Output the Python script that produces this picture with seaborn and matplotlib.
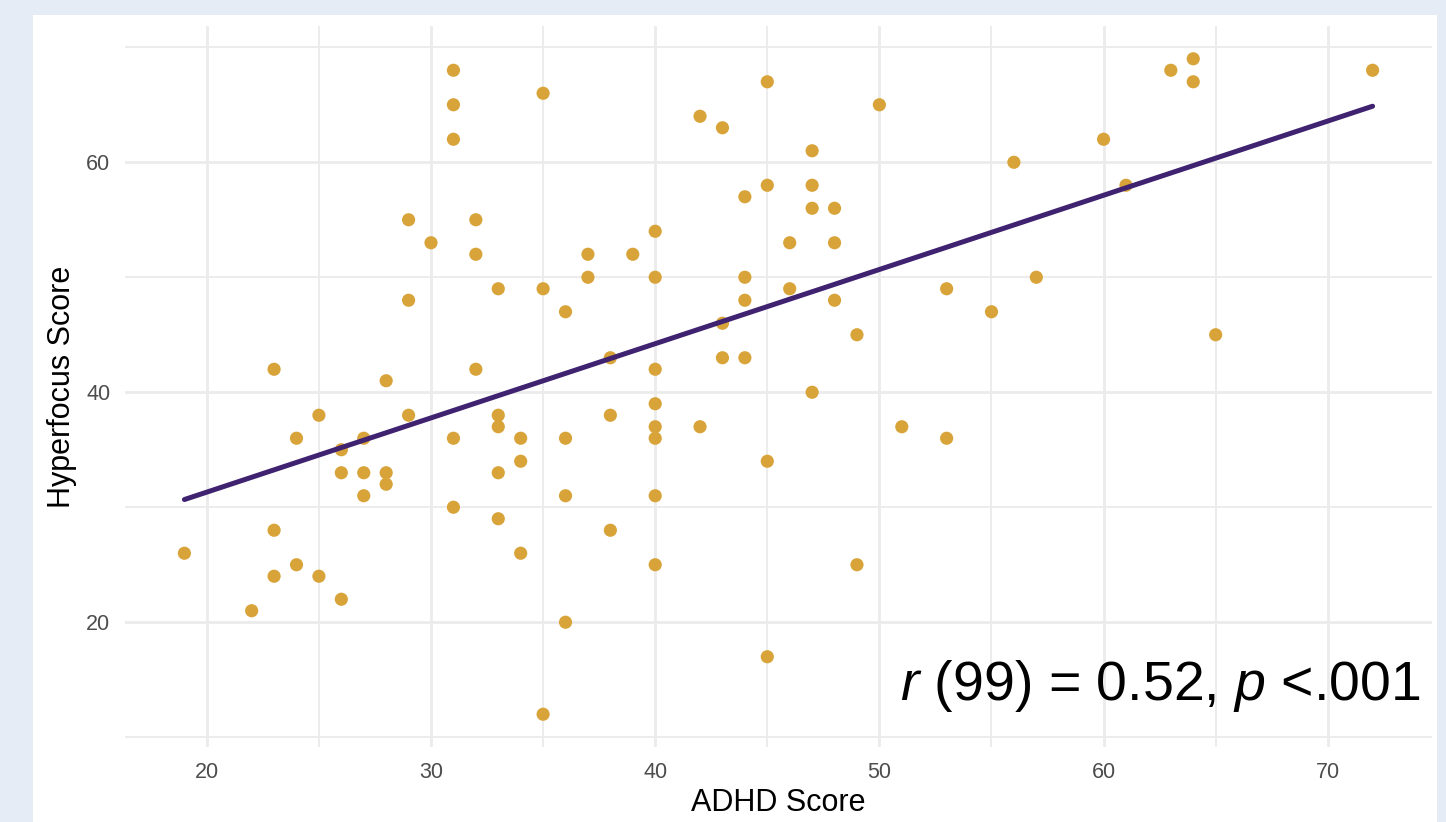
import numpy as np
import pandas as pd
import matplotlib
matplotlib.use("Agg")
import matplotlib.pyplot as plt
from matplotlib.patches import Rectangle
from matplotlib.ticker import MultipleLocator, FixedLocator
import seaborn as sns

# ADHD score (x) and hyperfocus score (y)
adhd = [19, 22, 23, 23, 23, 24, 24, 25, 25, 26, 26, 26, 27, 27, 27,
        28, 28, 28, 29, 29, 29, 30, 31, 31, 31, 31, 31, 32, 32, 32,
        33, 33, 33, 33, 33, 34, 34, 34, 35, 35, 35, 36, 36, 36, 36,
        37, 37, 38, 38, 38, 39, 40, 40, 40, 40, 40, 40, 40, 40,
        42, 42, 43, 43, 43, 44, 44, 44, 44, 45, 45, 45, 45, 46, 46,
        47, 47, 47, 47, 48, 48, 48, 49, 49, 50, 51, 53, 53, 55, 56,
        57, 60, 61, 63, 64, 64, 65, 72]
hyperfocus = [26, 21, 42, 28, 24, 36, 25, 38, 24, 35, 33, 22, 36, 33, 31,
              41, 33, 32, 55, 48, 38, 53, 68, 65, 62, 36, 30, 55, 52, 42,
              49, 38, 37, 33, 29, 36, 34, 26, 66, 49, 12, 47, 36, 31, 20,
              52, 50, 43, 38, 28, 52, 54, 50, 42, 39, 37, 36, 31, 25,
              64, 37, 63, 46, 43, 57, 50, 48, 43, 67, 58, 34, 17, 53, 49,
              61, 58, 56, 40, 56, 53, 48, 45, 25, 65, 37, 49, 36, 47, 60,
              50, 62, 58, 68, 69, 67, 45, 68]
stat_label = "$r$ (99) = 0.52, $p$ <.001"

df = pd.DataFrame({"ADHD Score": adhd, "Hyperfocus Score": hyperfocus})

sns.set_style("white")
plt.rcParams["font.family"] = ["Liberation Sans", "DejaVu Sans"]
plt.rcParams["mathtext.fontset"] = "custom"
plt.rcParams["mathtext.it"] = "Liberation Sans:italic"
plt.rcParams["mathtext.rm"] = "Liberation Sans"

fig = plt.figure(figsize=(14.46, 8.22), dpi=100)
fig.patch.set_facecolor("#e6ecf6")
# white card behind the plot
fig.patches.append(Rectangle((33 / 1446, 0), (1437 - 33) / 1446, (822 - 15) / 822,
                             transform=fig.transFigure, facecolor="white",
                             edgecolor="none", zorder=0))
ax = fig.add_axes([125 / 1446, (822 - 747) / 822, (1432 - 125) / 1446, (747 - 26) / 822])
ax.set_zorder(2)
ax.set_facecolor("none")

sns.scatterplot(data=df, x="ADHD Score", y="Hyperfocus Score", ax=ax,
                color="#d8a43a", s=90, edgecolor="none", zorder=3)
sns.regplot(data=df, x="ADHD Score", y="Hyperfocus Score", ax=ax, scatter=False,
            ci=None, truncate=True, line_kws={"color": "#3f2270", "lw": 3.6, "zorder": 4})

ax.set_xlim(16.35, 74.65)
ax.set_ylim(9.15, 71.85)
ax.xaxis.set_major_locator(MultipleLocator(10))
ax.xaxis.set_minor_locator(FixedLocator([15, 25, 35, 45, 55, 65, 75]))
ax.yaxis.set_major_locator(FixedLocator([20, 40, 60]))
ax.yaxis.set_minor_locator(FixedLocator([10, 30, 50, 70]))
ax.grid(which="major", color="#ebebeb", lw=2.0, zorder=0)
ax.grid(which="minor", color="#ebebeb", lw=1.3, zorder=0)
ax.set_axisbelow(True)
for sp in ax.spines.values():
    sp.set_visible(False)
ax.tick_params(which="both", length=0)
ax.tick_params(axis="both", labelsize=15.5, labelcolor="#4d4d4d", pad=10.5)

ax.set_xlabel("ADHD Score", fontsize=22, color="black", va="center")
ax.set_ylabel("Hyperfocus Score", fontsize=22, color="black", va="center")
ax.xaxis.set_label_coords(0.5, -0.078)
ax.yaxis.set_label_coords(-0.048, 0.5)

ax.text(0.991, 0.065, stat_label, transform=ax.transAxes, ha="right", va="baseline",
        fontsize=40, color="black", zorder=5)

fig.savefig("out.png", dpi=100, facecolor=fig.get_facecolor())
